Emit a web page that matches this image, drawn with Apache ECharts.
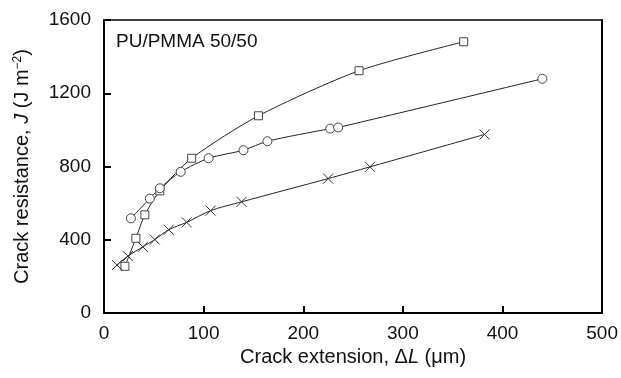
<!DOCTYPE html>
<html>
<head>
<meta charset="utf-8">
<script src="https://cdn.jsdelivr.net/npm/echarts@6/dist/echarts.min.js"></script>
<style>html,body{margin:0;padding:0;background:#fff}#c{width:621px;height:378px}</style>
</head>
<body>
<div id="c"></div>
<script>
// Data
var squareX = [21, 32, 41, 56, 88, 155, 256, 361];
var squareY = [255, 408, 536, 667, 845, 1077, 1323, 1481];
var circleX = [27, 46, 56, 77, 105, 140, 164, 227, 235, 440];
var circleY = [517, 625, 681, 771, 845, 889, 938, 1007, 1013, 1279];
var crossX = [13, 24, 39, 51, 65, 83, 107, 138, 225, 267, 382];
var crossY = [262, 311, 361, 401, 455, 495, 559, 607, 734, 798, 975];
var xTicks = [0, 100, 200, 300, 400, 500];
var yTicks = [0, 400, 800, 1200, 1600];
var panelLabel = 'PU/PMMA 50/50';

function pairs(xs, ys) { return xs.map(function (x, i) { return [x, ys[i]]; }); }

var FONT = 'Liberation Sans, Arial, sans-serif';
var chart = echarts.init(document.getElementById('c'), null, {renderer: 'canvas'});

var lineStyle = {color: '#222', width: 1};
var markStyle = {color: '#fff', borderColor: '#444', borderWidth: 1};
var plain = function (v) { return String(v); };

chart.setOption({
  animation: false,
  backgroundColor: '#fff',
  title: {
    text: panelLabel, left: 111, top: 27,
    textStyle: {fontFamily: FONT, fontSize: 19, fontWeight: 'normal', color: '#111'}
  },
  grid: {left: 104, right: 18, top: 20, bottom: 65},
  xAxis: [{
    type: 'value', min: xTicks[0], max: xTicks[xTicks.length - 1], interval: 100,
    axisLine: {lineStyle: {color: '#000', width: 2}},
    axisTick: {inside: true, length: 7, lineStyle: {color: '#000', width: 2}},
    axisLabel: {fontFamily: FONT, fontSize: 19, color: '#111', margin: 11, formatter: plain},
    splitLine: {show: false},
    name: '{n|Crack extension, Δ}{i|L}{n| (μm)}',
    nameLocation: 'middle', nameGap: 34,
    nameTextStyle: {
      rich: {
        n: {fontFamily: FONT, fontSize: 20, color: '#111'},
        i: {fontFamily: FONT, fontSize: 20, color: '#111', fontStyle: 'italic'}
      }
    }
  }, {
    type: 'value', position: 'top', min: 0, max: 500, interval: 100,
    axisLine: {show: true, onZero: false, lineStyle: {color: '#000', width: 1.5}},
    axisTick: {show: false}, axisLabel: {show: false}, splitLine: {show: false}
  }],
  yAxis: [{
    type: 'value', min: yTicks[0], max: yTicks[yTicks.length - 1], interval: 400,
    axisLine: {show: true, lineStyle: {color: '#000', width: 2}},
    axisTick: {show: true, inside: true, length: 7, lineStyle: {color: '#000', width: 2}},
    axisLabel: {fontFamily: FONT, fontSize: 19, color: '#111', margin: 13, formatter: plain},
    splitLine: {show: false},
    name: '{n|Crack resistance, }{i|J}{n| (J m}{s|−2}{n|)}',
    nameLocation: 'middle', nameGap: 72, nameRotate: 90,
    nameTextStyle: {
      rich: {
        n: {fontFamily: FONT, fontSize: 20, color: '#111'},
        i: {fontFamily: FONT, fontSize: 20, color: '#111', fontStyle: 'italic'},
        s: {fontFamily: FONT, fontSize: 12, color: '#111', verticalAlign: 'top'}
      }
    }
  }, {
    type: 'value', position: 'right', min: 0, max: 1600, interval: 400,
    axisLine: {show: true, onZero: false, lineStyle: {color: '#000', width: 2}},
    axisTick: {show: false}, axisLabel: {show: false}, splitLine: {show: false}
  }],
  series: [{
    type: 'line', name: 'square', data: pairs(squareX, squareY),
    smooth: 0.25,
    symbol: 'rect', symbolSize: 8, showAllSymbol: true,
    lineStyle: lineStyle, itemStyle: markStyle, z: 3
  }, {
    type: 'line', name: 'circle', data: pairs(circleX, circleY),
    smooth: 0.25,
    symbol: 'circle', symbolSize: 9, showAllSymbol: true,
    lineStyle: lineStyle, itemStyle: markStyle, z: 3
  }, {
    type: 'line', name: 'cross', data: pairs(crossX, crossY),
    smooth: 0.25,
    symbol: 'path://M0,0L10,10M10,0L0,10', symbolSize: 10, showAllSymbol: true,
    lineStyle: lineStyle,
    itemStyle: {color: 'none', borderColor: '#333', borderWidth: 1}, z: 3
  }]
});
</script>
</body>
</html>
